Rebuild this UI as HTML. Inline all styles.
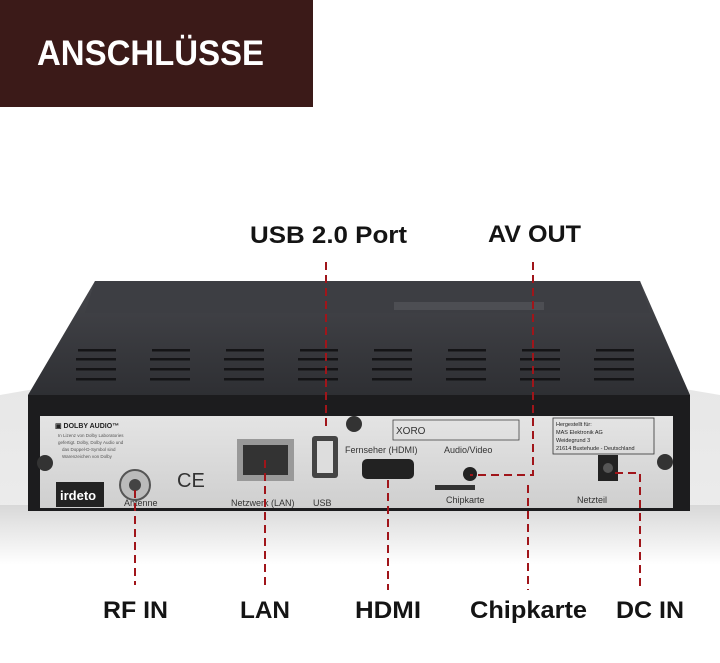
<!DOCTYPE html>
<html><head><meta charset="utf-8"><style>
html,body{margin:0;padding:0;background:#fff;}
svg{display:block;}
text{font-family:"Liberation Sans",Arial,sans-serif;}
</style></head><body>
<svg width="720" height="663" viewBox="0 0 720 663" xmlns="http://www.w3.org/2000/svg">
<defs>
<linearGradient id="floor" x1="0" y1="0" x2="0" y2="1">
<stop offset="0" stop-color="#e6e6e6"/><stop offset="1" stop-color="#ececec"/></linearGradient>
<linearGradient id="refl" x1="0" y1="0" x2="0" y2="1">
<stop offset="0" stop-color="#d8d8d8"/><stop offset="1" stop-color="#ffffff"/></linearGradient>
<linearGradient id="top" x1="0" y1="0" x2="0" y2="1">
<stop offset="0" stop-color="#45464b"/><stop offset="1" stop-color="#2e2f33"/></linearGradient>
<linearGradient id="panel" x1="0" y1="0" x2="0" y2="1">
<stop offset="0" stop-color="#e4e4e4"/><stop offset="1" stop-color="#cfcfcf"/></linearGradient>
</defs>
<rect width="720" height="663" fill="#fff"/>
<path d="M0 395 Q360 330 720 395 L720 520 L0 520 Z" fill="url(#floor)"/>
<rect x="0" y="505" width="720" height="60" fill="url(#refl)"/>
<rect x="0" y="0" width="313" height="107" fill="#3b1a18"/>
<text x="37" y="65" font-size="35" font-weight="bold" fill="#fff" textLength="227" lengthAdjust="spacingAndGlyphs">ANSCHLÜSSE</text>
<!-- device top -->
<path d="M95 281 L640 281 L690 395 L28 395 Z" fill="url(#top)"/>
<path d="M95 281 L640 281 L650 313 L85 313 Z" fill="#3d3e43"/>
<rect x="394" y="302" width="150" height="8" fill="#4d4e53"/>
<g fill="#141416">
<g id="s"><rect x="78" y="349" width="38" height="2.5"/><rect x="76" y="358" width="40" height="2.5"/><rect x="76" y="368" width="40" height="2.5"/><rect x="76" y="378" width="40" height="2.5"/></g>
<use href="#s" x="74"/><use href="#s" x="148"/><use href="#s" x="222"/><use href="#s" x="296"/><use href="#s" x="370"/><use href="#s" x="444"/><use href="#s" x="518"/>
</g>
<!-- front -->
<rect x="28" y="395" width="662" height="116" fill="#1c1c1e"/>
<rect x="40" y="416" width="633" height="92" fill="url(#panel)"/>
<circle cx="45" cy="463" r="8" fill="#333"/><circle cx="665" cy="462" r="8" fill="#333"/>
<circle cx="354" cy="424" r="8" fill="#333"/>
<text x="55" y="428" font-size="7" font-weight="bold" fill="#222">▣ DOLBY AUDIO™</text>
<text x="58" y="437" font-size="4.5" fill="#555">In Lizenz von Dolby Laboratories</text>
<text x="58" y="444" font-size="4.5" fill="#555">gefertigt. Dolby, Dolby Audio und</text>
<text x="62" y="451" font-size="4.5" fill="#555">das Doppel-D-Symbol sind</text>
<text x="62" y="458" font-size="4.5" fill="#555">Warenzeichen von Dolby</text>
<rect x="56" y="482" width="48" height="25" fill="#222"/>
<text x="60" y="500" font-size="13" font-weight="bold" fill="#fff">irdeto</text>
<circle cx="135" cy="485" r="15" fill="#bbb" stroke="#555" stroke-width="2"/><circle cx="135" cy="485" r="6" fill="#444"/>
<text x="177" y="487" font-size="20" fill="#333">CE</text>
<rect x="237" y="439" width="57" height="42" fill="#999"/><rect x="243" y="445" width="45" height="30" fill="#333"/>
<rect x="312" y="436" width="26" height="42" rx="3" fill="#444"/><rect x="317" y="441" width="16" height="32" fill="#ddd"/>
<rect x="362" y="459" width="52" height="20" rx="5" fill="#222"/>
<circle cx="470" cy="474" r="7" fill="#222"/>
<rect x="435" y="485" width="40" height="5" fill="#333"/>
<rect x="598" y="455" width="20" height="26" fill="#222"/><circle cx="608" cy="468" r="5" fill="#555"/>
<rect x="393" y="420" width="126" height="20" fill="none" stroke="#444" stroke-width="0.8"/>
<text x="396" y="434" font-size="10" fill="#333">XORO</text>
<rect x="553" y="418" width="101" height="36" fill="none" stroke="#333" stroke-width="0.8"/>
<text x="556" y="426" font-size="5.5" fill="#222">Hergestellt für:</text>
<text x="556" y="434" font-size="5.5" fill="#222">MAS Elektronik AG</text>
<text x="556" y="442" font-size="5.5" fill="#222">Weidegrund 3</text>
<text x="556" y="450" font-size="5.5" fill="#222">21614 Buxtehude - Deutschland</text>
<text x="345" y="453" font-size="9" fill="#333">Fernseher (HDMI)</text>
<text x="444" y="453" font-size="9" fill="#333">Audio/Video</text>
<text x="446" y="503" font-size="9" fill="#333">Chipkarte</text>
<text x="577" y="503" font-size="9" fill="#333">Netzteil</text>
<text x="124" y="506" font-size="9" fill="#333">Antenne</text>
<text x="231" y="506" font-size="9" fill="#333">Netzwerk (LAN)</text>
<text x="313" y="506" font-size="9" fill="#333">USB</text>
<!-- red dashed -->
<g stroke="#a0151a" stroke-width="2" stroke-dasharray="8,5" fill="none">
<path d="M326 262 V428"/>
<path d="M533 262 V475 H470"/>
<path d="M528 485 V590"/>
<path d="M135 490 V585"/>
<path d="M265 460 V590"/>
<path d="M388 480 V590"/>
<path d="M615 473 H640 V590"/>
</g>
<g font-size="24" font-weight="bold" fill="#141414">
<text x="250" y="243" textLength="157" lengthAdjust="spacingAndGlyphs">USB 2.0 Port</text>
<text x="488" y="242" textLength="93" lengthAdjust="spacingAndGlyphs">AV OUT</text>
<text x="103" y="618" textLength="65" lengthAdjust="spacingAndGlyphs">RF IN</text>
<text x="240" y="618" textLength="50" lengthAdjust="spacingAndGlyphs">LAN</text>
<text x="355" y="618" textLength="66" lengthAdjust="spacingAndGlyphs">HDMI</text>
<text x="470" y="618" textLength="117" lengthAdjust="spacingAndGlyphs">Chipkarte</text>
<text x="616" y="618" textLength="68" lengthAdjust="spacingAndGlyphs">DC IN</text>
</g>
</svg>
</body></html>
